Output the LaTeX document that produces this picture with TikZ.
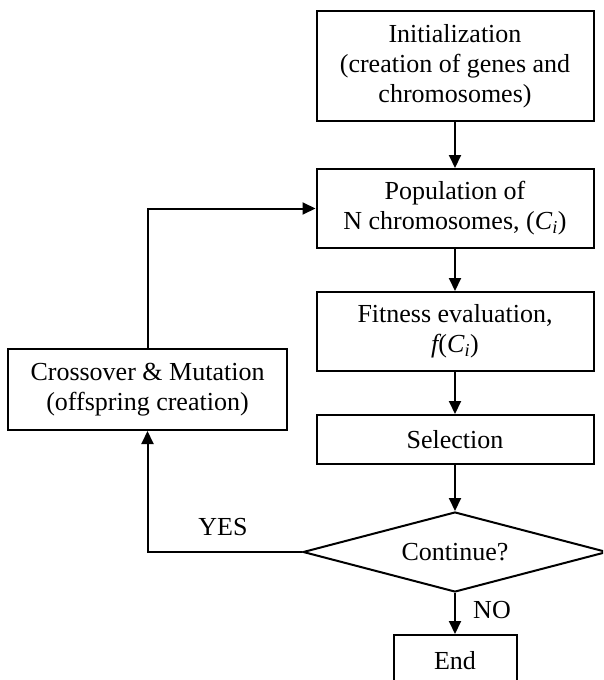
\documentclass[tikz,border=0pt]{standalone}
\usepackage{fontspec}
\setmainfont{Liberation Serif}
\usetikzlibrary{shapes.geometric,arrows.meta}
\begin{document}
\begin{tikzpicture}[x=1pt,y=-1pt,
  box/.style={draw, line width=2pt, rectangle, inner sep=0pt, align=center,
    font=\fontsize{26}{30}\selectfont},
  decision/.style={draw, line width=2pt, diamond, aspect=3.8, inner sep=0pt,
    minimum width=304pt, minimum height=80pt, font=\fontsize{26}{30}\selectfont},
  lbl/.style={font=\fontsize{26}{30}\selectfont, inner sep=0pt},
  flow/.style={line width=2pt, -{Triangle[length=13pt,width=12pt]}}]
\useasboundingbox (0,0) rectangle (603,680);
\clip (0,0) rectangle (603,680);
\node[box, minimum width=277pt, minimum height=110pt] (init) at (455,66)
  {Initialization\\(creation of genes and\\chromosomes)};
\node[box, minimum width=277pt, minimum height=79pt] (pop) at (455,208.5)
  {Population of\\N chromosomes, (\textit{C}\textsubscript{\textit{i}})};
\node[box, minimum width=277pt, minimum height=79pt] (fit) at (455,331.5)
  {Fitness evaluation,\\{\itshape f}(\textit{C}\textsubscript{\textit{i}})};
\node[box, minimum width=277pt, minimum height=49pt] (sel) at (455,439.5)
  {Selection};
\node[decision] (dec) at (455,552) {Continue?};
\node[box, minimum width=123pt, minimum height=52pt] (end) at (455,661) {End};
\node[box, minimum width=279pt, minimum height=81pt] (cross) at (147.5,389.5)
  {Crossover \& Mutation\\(offspring creation)};
\draw[flow] (init.south) -- (pop.north);
\draw[flow] (pop.south) -- (fit.north);
\draw[flow] (fit.south) -- (sel.north);
\draw[flow] (sel.south) -- (dec.north);
\draw[flow] (dec.south) -- (end.north);
\draw[flow] (dec.west) -| (cross.south);
\draw[flow] (cross.north) |- (pop.west);
\node[lbl] (no) at (492,610) {NO};
\node[lbl] (yes) at (223,527) {YES};
\end{tikzpicture}
\end{document}
